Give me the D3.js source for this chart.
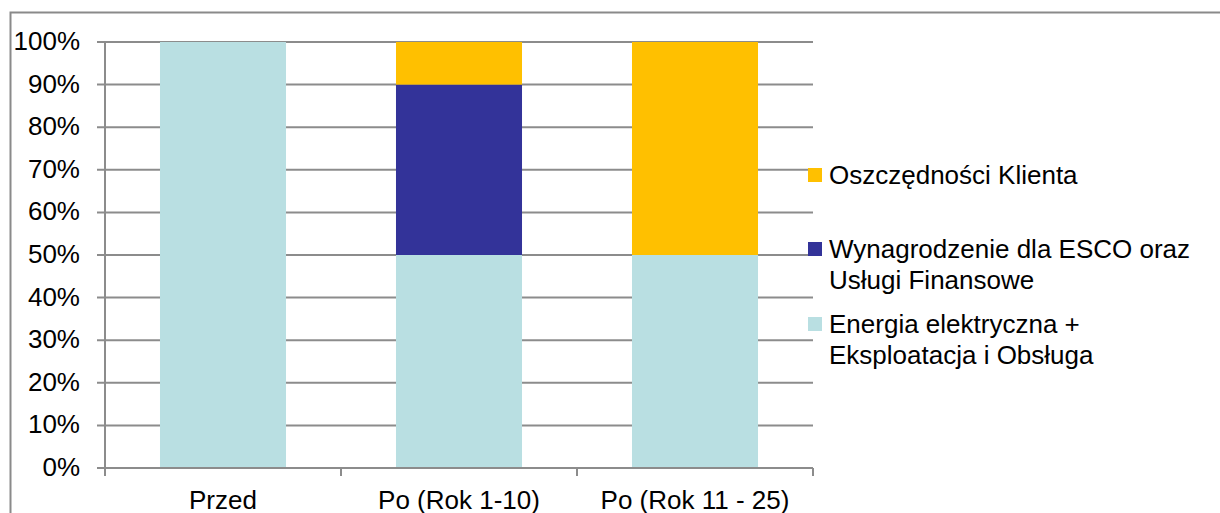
<!DOCTYPE html>
<html>
<head>
<meta charset="utf-8">
<script src="https://cdn.jsdelivr.net/npm/d3@7"></script>
<style>
  body { margin: 0; background: #fff; }
  svg { display: block; font-family: "Liberation Sans", Arial, sans-serif; }
</style>
</head>
<body>
<svg width="1220" height="513"></svg>
<script>
// categories and stacked shares (%)
var categories = ["Przed", "Po (Rok 1-10)", "Po (Rok 11 - 25)"];
var seriesNames = ["Energia elektryczna +|Eksploatacja i Obsługa",
                   "Wynagrodzenie dla ESCO oraz|Usługi Finansowe",
                   "Oszczędności Klienta"];
var energia = [100, 50, 50];
var esco = [0, 40, 0];
var oszczednosci = [0, 10, 50];
var yTicks = [0, 10, 20, 30, 40, 50, 60, 70, 80, 90, 100];
var colors = ["#b9dfe2", "#333399", "#ffc000"];

var svg = d3.select("svg"),
    margin = {top: 42, left: 105},
    width = 708,
    height = 426,
    fs = 26;

// outer frame
svg.append("path")
    .attr("d", "M10.5,513 V12.5 H1220")
    .attr("fill", "none")
    .attr("stroke", "#8a8a8a")
    .attr("stroke-width", 2);

var g = svg.append("g").attr("transform", "translate(" + margin.left + "," + margin.top + ")");

var x = d3.scaleBand().domain(categories).range([0, width]).paddingInner(0.466).paddingOuter(0.233);
var xb = d3.scaleBand().domain(categories).range([0, width]);
var y = d3.scaleLinear().domain([0, 100]).range([height, 0]);

// gridlines
g.selectAll(".grid").data(yTicks).enter().append("line")
    .attr("x1", -8).attr("x2", width)
    .attr("y1", function(d) { return y(d); })
    .attr("y2", function(d) { return y(d); })
    .attr("stroke", "#8c8c8c").attr("stroke-width", 2);

// y tick labels
g.selectAll(".yl").data(yTicks).enter().append("text")
    .attr("x", -25)
    .attr("y", function(d) { return y(d); })
    .attr("dy", "0.31em")
    .attr("text-anchor", "end")
    .attr("font-size", fs)
    .attr("fill", "#000")
    .text(function(d) { return d + "%"; });

// stacked bars
var rows = categories.map(function(c, i) {
  return {cat: c, a: energia[i], b: esco[i], c: oszczednosci[i]};
});
var stack = d3.stack().keys(["a", "b", "c"])(rows);

g.selectAll(".layer").data(stack).enter().append("g")
    .attr("fill", function(d, i) { return colors[i]; })
  .selectAll("rect").data(function(d) { return d; }).enter().append("rect")
    .attr("x", function(d) { return x(d.data.cat); })
    .attr("width", x.bandwidth())
    .attr("y", function(d) { return y(d[1]); })
    .attr("height", function(d) { return y(d[0]) - y(d[1]); });

// axes lines
g.append("line").attr("x1", 0).attr("x2", 0).attr("y1", 0).attr("y2", height + 8)
    .attr("stroke", "#8c8c8c").attr("stroke-width", 2);
g.append("line").attr("x1", 0).attr("x2", width).attr("y1", height).attr("y2", height)
    .attr("stroke", "#8c8c8c").attr("stroke-width", 2);
g.selectAll(".xt").data(categories).enter().append("line")
    .attr("x1", function(d) { return xb(d) + xb.bandwidth(); })
    .attr("x2", function(d) { return xb(d) + xb.bandwidth(); })
    .attr("y1", height).attr("y2", height + 8)
    .attr("stroke", "#8c8c8c").attr("stroke-width", 2);

// category labels
g.selectAll(".xl").data(categories).enter().append("text")
    .attr("x", function(d) { return xb(d) + xb.bandwidth() / 2; })
    .attr("y", height + 41)
    .attr("text-anchor", "middle")
    .attr("font-size", fs)
    .attr("fill", "#000")
    .text(function(d) { return d; });

// legend (top series first)
var legendY = [168, 242, 317];
var legend = svg.selectAll(".lg").data([2, 1, 0]).enter().append("g")
    .attr("transform", function(d, i) { return "translate(808," + legendY[i] + ")"; });
legend.append("rect").attr("width", 14).attr("height", 14)
    .attr("fill", function(d) { return colors[d]; });
legend.append("text")
    .attr("x", 21).attr("y", 16)
    .attr("font-size", fs)
    .attr("fill", "#000")
    .selectAll("tspan").data(function(d) { return seriesNames[d].split("|"); }).enter().append("tspan")
    .attr("x", 21)
    .attr("dy", function(d, i) { return i ? 31 : 0; })
    .text(function(d) { return d; });
</script>
</body>
</html>
